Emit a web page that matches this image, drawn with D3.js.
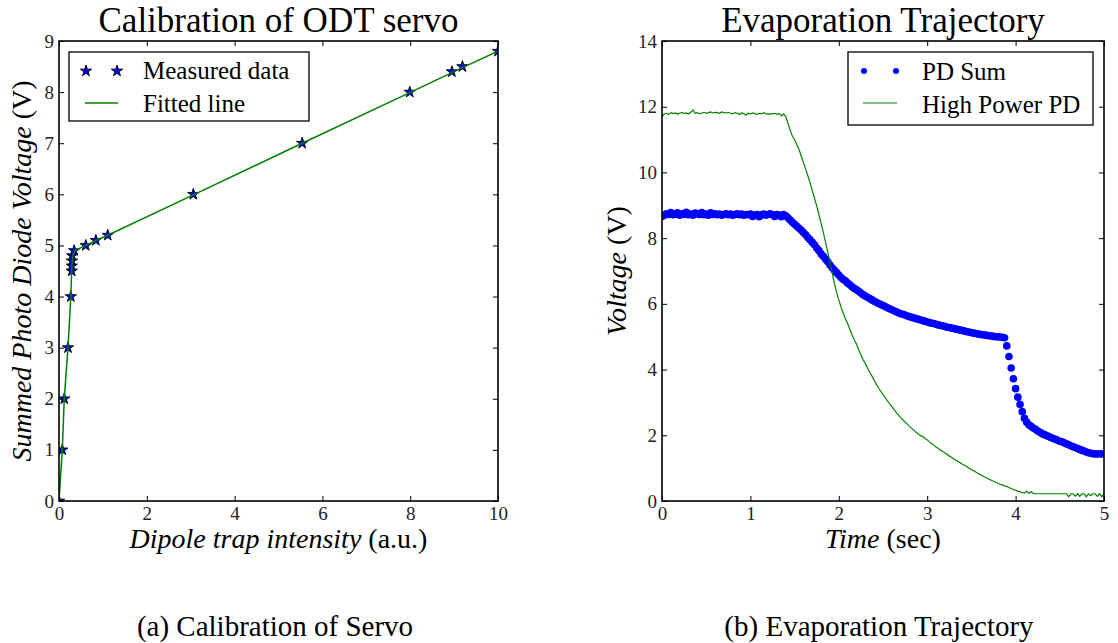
<!DOCTYPE html>
<html>
<head>
<meta charset="utf-8">
<script src="https://cdn.jsdelivr.net/npm/d3@7"></script>
<style>
  body { margin: 0; background: #fff; }
</style>
</head>
<body>
<div class="chart-div"></div>
<script>
// ---- panel (a): calibration of servo ----
const measuredX = [0, 0.075, 0.12, 0.205, 0.27, 0.29, 0.29, 0.295, 0.30, 0.345, 0.61, 0.84, 1.11, 3.06, 5.54, 7.99, 8.95, 9.19, 10.0];
const measuredY = [0, 1, 2, 3, 4, 4.5, 4.6, 4.7, 4.8, 4.9, 5.0, 5.1, 5.2, 6.0, 7.0, 8.0, 8.4, 8.5, 8.8];
const fittedX = [0, 0.075, 0.12, 0.205, 0.27, 0.29, 0.31, 0.36, 0.61, 0.84, 1.11, 3.06, 5.54, 7.99, 8.95, 9.19, 10.0];
const fittedY = [0, 1, 2, 3, 4, 4.55, 4.8, 4.9, 5.0, 5.1, 5.2, 5.99, 7.0, 7.99, 8.38, 8.48, 8.8];
const calXTicks = [0, 2, 4, 6, 8, 10];
const calYTicks = [0, 1, 2, 3, 4, 5, 6, 7, 8, 9];

// ---- panel (b): evaporation trajectory, sampled every 25 ms ----
const evapT0 = 0;
const evapStep = 0.025;
const pdSum = [
  8.66, 8.70, 8.74, 8.72, 8.78, 8.71, 8.73, 8.77, 8.70, 8.74, 8.72, 8.79, 8.71, 8.73, 8.70, 8.76, 8.74, 8.72, 8.78, 8.71,
  8.73, 8.70, 8.77, 8.72, 8.74, 8.71, 8.73, 8.70, 8.72, 8.74, 8.71, 8.73, 8.70, 8.72, 8.74, 8.71, 8.73, 8.70, 8.72, 8.71,
  8.73, 8.66, 8.70, 8.72, 8.65, 8.71, 8.73, 8.70, 8.72, 8.74, 8.71, 8.66, 8.72, 8.70, 8.65, 8.72,
  8.68, 8.62, 8.55, 8.48, 8.42, 8.36, 8.30, 8.24, 8.17, 8.10, 8.02, 7.95, 7.87, 7.80, 7.70, 7.62, 7.52, 7.45, 7.36, 7.28, 7.18, 7.10, 7.02, 6.95,
  6.88, 6.80, 6.74, 6.70, 6.63, 6.58, 6.52, 6.47, 6.43, 6.38, 6.33, 6.28, 6.24, 6.20, 6.16, 6.12, 6.08, 6.05, 6.01, 5.98,
  5.95, 5.92, 5.88, 5.85, 5.82, 5.79, 5.76, 5.73, 5.70, 5.68, 5.66, 5.63, 5.61, 5.59, 5.57, 5.55, 5.53, 5.51, 5.49, 5.47,
  5.45, 5.43, 5.41, 5.40, 5.38, 5.36, 5.34, 5.33, 5.31, 5.29, 5.28, 5.26, 5.25, 5.23, 5.22, 5.20, 5.19, 5.17, 5.15, 5.14,
  5.12, 5.11, 5.10, 5.08, 5.07, 5.06, 5.05, 5.04, 5.03, 5.02, 5.01, 5.00, 5.00, 4.99, 4.98, 4.97, 4.72, 4.40, 4.05, 3.72,
  3.42, 3.16, 2.94, 2.72, 2.52, 2.40, 2.32, 2.27, 2.22, 2.18, 2.13, 2.09, 2.05, 2.02, 1.99, 1.96, 1.93, 1.90, 1.88, 1.85,
  1.82, 1.80, 1.77, 1.74, 1.71, 1.68, 1.65, 1.63, 1.60, 1.57, 1.54, 1.52, 1.49, 1.47, 1.45, 1.44, 1.43, 1.43, 1.44, 1.43, 1.44
];
const highPowerPd = [
  11.70, 11.78, 11.80, 11.76, 11.82, 11.79, 11.81, 11.77, 11.80, 11.83, 11.79, 11.81, 11.78, 11.83, 11.90, 11.80, 11.82, 11.78, 11.81, 11.83,
  11.80, 11.82, 11.84, 11.81, 11.83, 11.82, 11.80, 11.84, 11.82, 11.81, 11.83, 11.80, 11.78, 11.82, 11.80, 11.76, 11.81, 11.79, 11.74, 11.80,
  11.78, 11.81, 11.79, 11.77, 11.80, 11.78, 11.82, 11.79, 11.77, 11.79, 11.78, 11.80, 11.77, 11.79, 11.72, 11.78,
  11.70, 11.50, 11.28, 11.10, 11.00, 10.85, 10.70, 10.50, 10.30, 10.10, 9.90, 9.68, 9.45, 9.22, 8.98, 8.72, 8.45, 8.17, 7.88, 7.58, 7.27, 6.95, 6.62, 6.35,
  6.12, 5.90, 5.72, 5.55, 5.40, 5.22, 5.05, 4.90, 4.78, 4.60, 4.45, 4.30, 4.18, 4.05, 3.92, 3.80, 3.68, 3.55, 3.44, 3.34,
  3.24, 3.15, 3.05, 2.96, 2.87, 2.78, 2.70, 2.62, 2.54, 2.47, 2.40, 2.34, 2.27, 2.21, 2.15, 2.09, 2.04, 1.99, 1.96, 1.91,
  1.86, 1.80, 1.75, 1.70, 1.64, 1.60, 1.55, 1.51, 1.46, 1.42, 1.37, 1.33, 1.28, 1.24, 1.20, 1.16, 1.12, 1.08, 1.04, 1.00,
  0.96, 0.92, 0.88, 0.84, 0.80, 0.77, 0.73, 0.70, 0.66, 0.63, 0.60, 0.57, 0.54, 0.51, 0.49, 0.46, 0.44, 0.41, 0.38, 0.35, 0.33, 0.30, 0.28, 0.26, 0.24,
  0.30, 0.23, 0.29, 0.23, 0.22, 0.22, 0.22, 0.22, 0.22, 0.22, 0.22, 0.22, 0.22, 0.22, 0.22, 0.22, 0.22, 0.22, 0.22,
  0.13, 0.22, 0.22, 0.15, 0.22, 0.14, 0.22, 0.22, 0.13, 0.22, 0.16, 0.22, 0.22, 0.14, 0.22, 0.13, 0.22
];
const evapXTicks = [0, 1, 2, 3, 4, 5];
const evapYTicks = [0, 2, 4, 6, 8, 10, 12, 14];

const BLUE = "#0000ff";
const GREEN = "#008000";
const SERIF = "'Liberation Serif', 'DejaVu Serif', 'Times New Roman', serif";

const svg = d3.select(".chart-div")
  .append("svg")
  .attr("width", 1118)
  .attr("height", 643)
  .attr("font-family", SERIF);

svg.append("rect").attr("width", 1118).attr("height", 643).attr("fill", "#fff");

const star = d3.symbol().type(d3.symbolStar).size(40);

// text helper so every label gets the serif face explicitly
function txt(parent, x, y, size, str) {
  return parent.append("text")
    .attr("x", x).attr("y", y)
    .style("font-family", SERIF)
    .style("font-size", size + "px")
    .attr("fill", "#000")
    .text(str);
}

// sets up one axes box with inward ticks on all four sides
function makeAxes(id, box, xDomain, yDomain, xTicks, yTicks) {
  const x = d3.scaleLinear().domain(xDomain).range([box.left, box.right]);
  const y = d3.scaleLinear().domain(yDomain).range([box.bottom, box.top]);

  svg.append("clipPath").attr("id", id)
    .append("rect")
    .attr("x", box.left).attr("y", box.top)
    .attr("width", box.right - box.left).attr("height", box.bottom - box.top);

  const fmt = d3.format("d");
  const axes = [
    [d3.axisBottom(x).tickValues(xTicks), `translate(0,${box.bottom})`, true, 6],
    [d3.axisTop(x).tickValues(xTicks), `translate(0,${box.top})`, false, 6],
    [d3.axisLeft(y).tickValues(yTicks), `translate(${box.left},0)`, true, 5],
    [d3.axisRight(y).tickValues(yTicks), `translate(${box.right},0)`, false, 5]
  ];
  axes.forEach(([ax, tr, labels, pad]) => {
    ax.tickSizeInner(-5).tickSizeOuter(0).tickPadding(pad).tickFormat(labels ? fmt : "");
    const g = svg.append("g").attr("transform", tr).call(ax)
      .attr("font-family", SERIF);
    g.select(".domain").remove();
    g.selectAll(".tick line").attr("stroke", "#000").attr("stroke-width", 1);
    g.selectAll("text")
      .style("font-family", SERIF)
      .style("font-size", "19px")
      .attr("fill", "#222");
  });

  const plot = svg.append("g").attr("clip-path", `url(#${id})`);
  return { x, y, plot };
}

function frame(box) {
  svg.append("rect")
    .attr("x", box.left).attr("y", box.top)
    .attr("width", box.right - box.left).attr("height", box.bottom - box.top)
    .attr("fill", "none").attr("stroke", "#000").attr("stroke-width", 1.6);
}

function axisLabel(parts, x, y, rotate) {
  const t = svg.append("text")
    .attr("text-anchor", "middle")
    .attr("transform", `translate(${x},${y})` + (rotate ? " rotate(-90)" : ""))
    .style("font-family", SERIF)
    .style("font-size", "28px");
  parts.forEach(p => t.append("tspan").style("font-style", p.italic ? "italic" : "normal").text(p.text));
}

// ---------- panel (a) ----------
const boxA = { left: 59, right: 498, top: 41, bottom: 501 };
const A = makeAxes("clipA", boxA, [0, 10], [0, 9], calXTicks, calYTicks);

A.plot.selectAll("path.star")
  .data(measuredX.map((v, i) => [v, measuredY[i]]))
  .enter().append("path")
  .attr("class", "star")
  .attr("d", star)
  .attr("transform", d => `translate(${A.x(d[0])},${A.y(d[1])})`)
  .attr("fill", BLUE).attr("stroke", "#000").attr("stroke-width", 0.9);

A.plot.append("path")
  .datum(fittedX.map((v, i) => [v, fittedY[i]]))
  .attr("fill", "none").attr("stroke", GREEN).attr("stroke-width", 1.5)
  .attr("d", d3.line().x(d => A.x(d[0])).y(d => A.y(d[1])));

frame(boxA);
txt(svg, (boxA.left + boxA.right) / 2, 32, 35, "Calibration of ODT servo").attr("text-anchor", "middle");
axisLabel([{ text: "Dipole trap intensity", italic: true }, { text: " (a.u.)" }], (boxA.left + boxA.right) / 2, 548, false);
axisLabel([{ text: "Summed Photo Diode Voltage", italic: true }, { text: " (V)" }], 31, (boxA.top + boxA.bottom) / 2, true);

// legend (a)
const legA = svg.append("g");
legA.append("rect").attr("x", 69).attr("y", 52).attr("width", 240).attr("height", 69)
  .attr("fill", "#fff").attr("stroke", "#000").attr("stroke-width", 1.3);
[86, 117].forEach(px => legA.append("path").attr("d", star)
  .attr("transform", `translate(${px},71)`)
  .attr("fill", BLUE).attr("stroke", "#000").attr("stroke-width", 0.9));
legA.append("line").attr("x1", 85).attr("x2", 118).attr("y1", 103).attr("y2", 103)
  .attr("stroke", GREEN).attr("stroke-width", 1.5);
txt(legA, 143, 79, 25, "Measured data");
txt(legA, 143, 112, 25, "Fitted line");

// ---------- panel (b) ----------
const boxB = { left: 662, right: 1104, top: 41, bottom: 501 };
const B = makeAxes("clipB", boxB, [0, 5], [0, 14], evapXTicks, evapYTicks);
const evapTime = i => evapT0 + i * evapStep;

B.plot.selectAll("circle.pd")
  .data(pdSum)
  .enter().append("circle")
  .attr("class", "pd")
  .attr("cx", (d, i) => B.x(evapTime(i)))
  .attr("cy", d => B.y(d))
  .attr("r", 3.8)
  .attr("fill", BLUE);

B.plot.append("path")
  .datum(highPowerPd)
  .attr("fill", "none").attr("stroke", GREEN).attr("stroke-width", 1.2)
  .attr("d", d3.line().x((d, i) => B.x(evapTime(i))).y(d => B.y(d)));

frame(boxB);
txt(svg, (boxB.left + boxB.right) / 2, 32, 35, "Evaporation Trajectory").attr("text-anchor", "middle");
axisLabel([{ text: "Time", italic: true }, { text: " (sec)" }], (boxB.left + boxB.right) / 2, 548, false);
axisLabel([{ text: "Voltage", italic: true }, { text: " (V)" }], 626, (boxB.top + boxB.bottom) / 2, true);

// legend (b)
const legB = svg.append("g");
legB.append("rect").attr("x", 848).attr("y", 52).attr("width", 245).attr("height", 73)
  .attr("fill", "#fff").attr("stroke", "#000").attr("stroke-width", 1.3);
[864, 896].forEach(px => legB.append("circle").attr("cx", px).attr("cy", 71).attr("r", 3).attr("fill", BLUE));
legB.append("line").attr("x1", 863).attr("x2", 897).attr("y1", 103).attr("y2", 103)
  .attr("stroke", GREEN).attr("stroke-width", 1.2);
txt(legB, 922, 80, 25, "PD Sum");
txt(legB, 922, 113, 25, "High Power PD");

// sub-figure captions
txt(svg, 275, 636, 29, "(a) Calibration of Servo").attr("text-anchor", "middle");
txt(svg, 879, 636, 29, "(b) Evaporation Trajectory").attr("text-anchor", "middle");
</script>
</body>
</html>
